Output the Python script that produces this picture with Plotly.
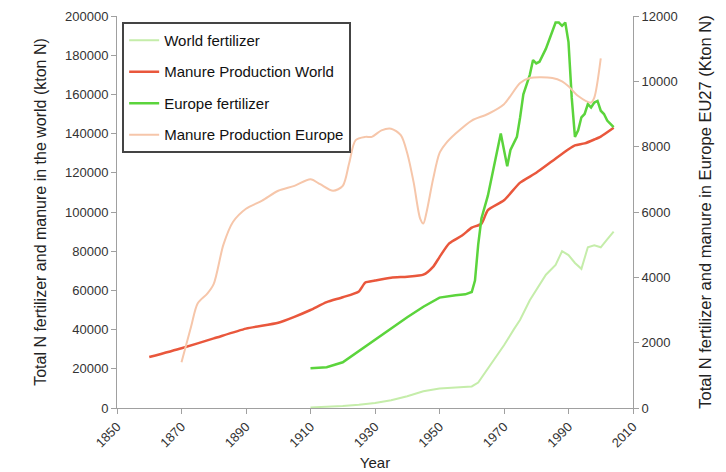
import plotly.graph_objects as go

# World fertilizer (kton N, left axis)
wf_years = [1910, 1915, 1920, 1925, 1930, 1935, 1940, 1945, 1950, 1955, 1960, 1962, 1965, 1968, 1970,
            1973, 1975, 1978, 1980, 1983, 1986, 1988, 1990, 1992, 1994, 1996, 1998, 2000, 2002, 2004]
wf_vals = [0.3, 0.6, 1.0, 1.6, 2.5, 4.0, 6.0, 8.5, 10.0, 10.5, 11.0, 13.0, 20.0, 27.0, 32.0,
           40.0, 45.0, 55.0, 60.0, 68.0, 73.0, 80.0, 78.0, 74.0, 71.0, 82.0, 83.0, 82.0, 86.0, 90.0]

# Manure production world (kton N, left axis)
mw_years = [1860, 1870, 1880, 1890, 1900, 1905, 1910, 1915, 1920, 1925, 1927, 1930, 1935, 1940, 1945,
            1948, 1950, 1953, 1957, 1960, 1963, 1965, 1970, 1975, 1980, 1985, 1990, 1992, 1995, 1998,
            2000, 2004]
mw_vals = [26.0, 30.5, 35.5, 40.5, 43.5, 46.5, 50.0, 54.0, 56.5, 59.5, 64.0, 65.0, 66.5, 67.0, 68.0,
           72.0, 77.0, 84.0, 88.0, 92.0, 94.0, 101.0, 106.0, 115.0, 120.0, 126.0, 132.0, 134.0, 135.0, 137.0,
           138.5, 143.0]

# Europe fertilizer (kton N, right axis)
ef_years = [1910, 1915, 1920, 1925, 1930, 1935, 1940, 1945, 1950, 1955, 1958, 1960, 1961, 1962, 1963,
            1965, 1967, 1969, 1970, 1971, 1972, 1974, 1975, 1976, 1978, 1979, 1980, 1981, 1983, 1985,
            1986, 1987, 1988, 1989, 1990, 1991, 1992, 1993, 1994, 1995, 1996, 1997, 1998, 1999, 2000,
            2001, 2002, 2003, 2004]
ef_vals = [1220, 1250, 1400, 1750, 2100, 2450, 2780, 3100, 3380, 3450, 3480, 3550, 3900, 5000, 5800,
           6500, 7400, 8400, 7900, 7400, 7900, 8300, 8900, 9600, 10200, 10650, 10550, 10600, 11000, 11500,
           11800, 11800, 11700, 11800, 11200, 9500, 8300, 8500, 8900, 9000, 9300, 9200, 9350, 9400, 9100,
           9000, 8800, 8700, 8600]

# Manure production Europe (kton N, right axis)
me_years = [1870, 1873, 1875, 1878, 1880, 1883, 1886, 1890, 1895, 1900, 1905, 1910, 1913, 1917, 1920,
            1922, 1924, 1927, 1929, 1932, 1935, 1938, 1940, 1942, 1944, 1945, 1946, 1948, 1950, 1952,
            1955, 1960, 1965, 1970, 1975, 1978, 1985, 1988, 1990, 1993, 1997, 1998, 2000]
me_vals = [1400, 2500, 3200, 3500, 3800, 5000, 5700, 6100, 6350, 6650, 6800, 7000, 6850, 6650, 6800,
           7500, 8200, 8300, 8300, 8500, 8550, 8350, 7800, 6900, 5800, 5650, 6000, 7000, 7800, 8100,
           8400, 8800, 9000, 9300, 9950, 10100, 10100, 10000, 9850, 9550, 9350, 9500, 10700]

x_ticks = list(range(1850, 2011, 20))
y_left_ticks = list(range(0, 200001, 20000))
y_right_ticks = list(range(0, 12001, 2000))

fig = go.Figure()
fig.add_trace(go.Scatter(x=wf_years, y=[v * 1000 for v in wf_vals], name="World fertilizer",
                         mode="lines", line=dict(color="#c5edaa", width=2), legendgroup="a"))
fig.add_trace(go.Scatter(x=mw_years, y=[v * 1000 for v in mw_vals], name="Manure Production World",
                         mode="lines", line=dict(color="#e9573c", width=2.5, shape="spline", smoothing=0.6),
                         legendgroup="b"))
fig.add_trace(go.Scatter(x=ef_years, y=ef_vals, name="Europe fertilizer", yaxis="y2",
                         mode="lines", line=dict(color="#5bd43c", width=2.5), legendgroup="c"))
fig.add_trace(go.Scatter(x=me_years, y=me_vals, name="Manure Production Europe", yaxis="y2",
                         mode="lines", line=dict(color="#f6c6aa", width=2, shape="spline", smoothing=0.8),
                         legendgroup="d"))

axis_common = dict(showgrid=False, zeroline=False, showline=True, linecolor="#a0a0a0", linewidth=1,
                   ticks="outside", ticklen=5, tickcolor="#a0a0a0", automargin=False,
                   tickfont=dict(family="Liberation Sans, Arial", size=13, color="#333333"))

fig.update_layout(
    width=726, height=472,
    margin=dict(l=109, r=101, t=8, b=72),
    paper_bgcolor="white", plot_bgcolor="white",
    font=dict(family="Liberation Sans, Arial", size=13, color="#222222"),
    xaxis=dict(range=[1850, 2010], tickvals=x_ticks, tickangle=-45,
               title=dict(text="Year", font=dict(size=15), standoff=8), **axis_common),
    yaxis=dict(range=[0, 200000], tickvals=y_left_ticks, tickformat="d",
               title=dict(text="Total N fertilizer and manure in the world (kton N)", font=dict(size=16),
                          standoff=14), **axis_common),
    yaxis2=dict(range=[0, 12000], tickvals=y_right_ticks, tickformat="d", overlaying="y", side="right",
                title=dict(text="Total N fertilizer and manure in Europe EU27 (Kton N)", font=dict(size=16.5),
                           standoff=22), **axis_common),
    legend=dict(x=0.01, y=0.985, xanchor="left", yanchor="top", bordercolor="#444444", borderwidth=2,
                bgcolor="white", tracegroupgap=9, font=dict(size=15, color="#111111"),
                traceorder="grouped"),
    showlegend=True,
)

fig.write_html("out.html")
